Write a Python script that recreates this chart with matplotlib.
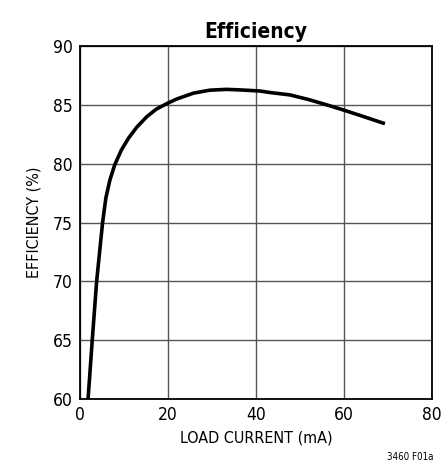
import matplotlib
matplotlib.use("Agg")
import matplotlib.pyplot as plt

# 読み取り値
load_ma = [1.85, 2.8, 3.8, 4.5, 5.15, 5.9, 6.8, 7.9, 9.4, 11.0, 12.9, 15.2, 17.4, 19.7,
           22.0, 25.8, 29.5, 33.3, 37.1, 40.9, 43.2, 47.7, 52.0, 56.1, 60.0, 64.5, 69.3]
eff = [60.0, 65.0, 70.0, 72.6, 75.0, 77.1, 78.6, 79.9, 81.15, 82.15, 83.1, 84.0, 84.65, 85.1,
       85.5, 86.0, 86.25, 86.32, 86.26, 86.18, 86.05, 85.85, 85.45, 85.0, 84.55, 84.0, 83.4]

xticks = [0, 20, 40, 60, 80]
yticks = [60, 65, 70, 75, 80, 85, 90]

plt.rcParams['font.family'] = ['Liberation Sans Narrow', 'DejaVu Sans']
plt.rcParams['font.stretch'] = 'condensed'

fig = plt.figure(figsize=(4.44, 4.70), dpi=100)
ax = fig.add_axes([0.180, 0.151, 0.793, 0.751])

ax.plot(load_ma, eff, color='black', lw=2.6, solid_joinstyle='round', solid_capstyle='butt')

ax.set_xlim(0, 80)
ax.set_ylim(60, 90)
ax.set_xticks(xticks)
ax.set_yticks(yticks)
ax.grid(True, color='#555555', lw=1.0)
ax.tick_params(length=0, labelsize=12.5, pad=5)
for s in ax.spines.values():
    s.set_color('black')
    s.set_linewidth(1.3)

ax.set_title("Efficiency", fontsize=15, fontweight='bold', pad=6)
ax.set_xlabel("LOAD CURRENT (mA)", fontsize=11.5, labelpad=5)
ax.set_ylabel("EFFICIENCY (%)", fontsize=11.5, labelpad=8)
fig.text(0.925, 0.027, "3460 F01a", fontsize=7, ha='center', va='center')

fig.savefig("out.png", dpi=100)
